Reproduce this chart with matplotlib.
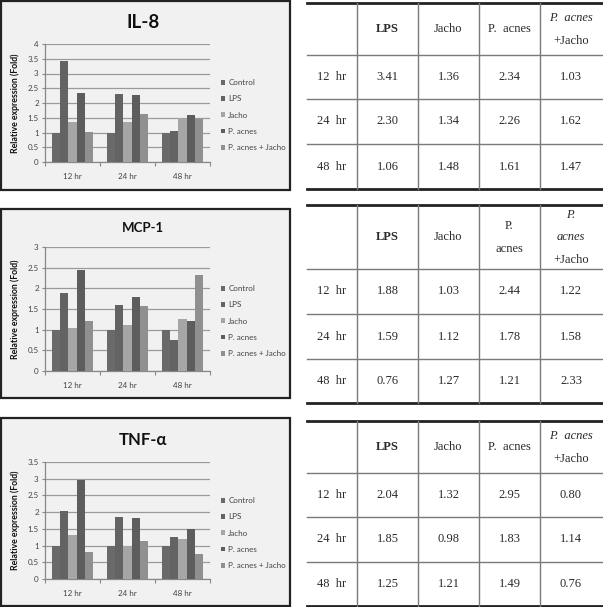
import matplotlib
matplotlib.use("Agg")
import matplotlib.pyplot as plt
from matplotlib.patches import Rectangle
from matplotlib.lines import Line2D
from matplotlib.ticker import MultipleLocator, FuncFormatter
import numpy as np

# ---------------- data ----------------
time_points = ["12 hr", "24 hr", "48 hr"]
series_names = ["Control", "LPS", "Jacho", "P. acnes", "P. acnes + Jacho"]
series_colors = ["#6a6a6a", "#636363", "#a6a6a6", "#5d5d5d", "#909090"]

il8_control = [1.00, 1.00, 1.00]
il8_lps = [3.41, 2.30, 1.06]
il8_jacho = [1.36, 1.34, 1.48]
il8_pacnes = [2.34, 2.26, 1.61]
il8_pacnes_jacho = [1.03, 1.62, 1.47]

mcp1_control = [1.00, 1.00, 1.00]
mcp1_lps = [1.88, 1.59, 0.76]
mcp1_jacho = [1.03, 1.12, 1.27]
mcp1_pacnes = [2.44, 1.78, 1.21]
mcp1_pacnes_jacho = [1.22, 1.58, 2.33]

tnf_control = [1.00, 1.00, 1.00]
tnf_lps = [2.04, 1.85, 1.25]
tnf_jacho = [1.32, 0.98, 1.21]
tnf_pacnes = [2.95, 1.83, 1.49]
tnf_pacnes_jacho = [0.80, 1.14, 0.76]

chart_titles = ["IL-8", "MCP-1", "TNF-α"]
chart_ymax = [4.0, 3.0, 3.5]
ylabel_text = "Relative expression (Fold)"

# ---------------- figure ----------------
W, H = 603, 607
fig = plt.figure(figsize=(W / 100, H / 100), dpi=100)
fig.patch.set_facecolor("white")


def fx(px):
    return px / W


def fy(py):
    return 1 - py / H


CHART_FONT = ["Lato", "DejaVu Sans"]
TABLE_FONT = ["Liberation Serif", "DejaVu Serif"]

chart_data = [
    [il8_control, il8_lps, il8_jacho, il8_pacnes, il8_pacnes_jacho],
    [mcp1_control, mcp1_lps, mcp1_jacho, mcp1_pacnes, mcp1_pacnes_jacho],
    [tnf_control, tnf_lps, tnf_jacho, tnf_pacnes, tnf_pacnes_jacho],
]

# layout (pixels from top)
frames = [(1, 190), (209, 398), (418, 606)]
plots = [(44, 162), (247, 371), (462, 579)]
title_y = [22, 228, 440]
title_size = [13.5, 9.5, 12]
legend_top = [79, 285, 497]

for i in range(3):
    ft, fb = frames[i]
    fig.add_artist(Rectangle((fx(1), fy(fb)), fx(290) - fx(1), (fb - ft) / H,
                             transform=fig.transFigure, facecolor="#f1f1f1",
                             edgecolor="#222222", linewidth=1.6, zorder=0))
    pt, pb = plots[i]
    ax = fig.add_axes([fx(45), fy(pb), fx(210) - fx(45), (pb - pt) / H])
    ax.set_facecolor("none")
    x = np.arange(len(time_points))
    bw = 0.15
    handles = []
    for k, (vals, col) in enumerate(zip(chart_data[i], series_colors)):
        h = ax.bar(x + (k - 2) * bw, vals, width=bw, color=col, edgecolor="none",
                   zorder=3, label=series_names[k])
        handles.append(h)
    ax.set_xlim(-0.5, 2.5)
    ax.set_ylim(0, chart_ymax[i])
    ax.yaxis.set_major_locator(MultipleLocator(0.5))
    ax.yaxis.set_major_formatter(FuncFormatter(lambda v, p: "%g" % v))
    ax.grid(axis="y", color="#9a9a9a", linewidth=0.9, zorder=1)
    ax.set_xticks(x)
    ax.set_xticklabels(time_points)
    ax.set_xticks([-0.5, 0.5, 1.5, 2.5], minor=True)
    ax.tick_params(axis="x", which="major", length=0, pad=8, labelsize=5.8,
                   labelcolor="#444444")
    ax.tick_params(axis="x", which="minor", length=3, color="#888888", width=0.8)
    ax.tick_params(axis="y", length=2.5, color="#888888", width=0.8, pad=2,
                   labelsize=5.8, labelcolor="#444444")
    for lab in ax.get_xticklabels() + ax.get_yticklabels():
        lab.set_family(CHART_FONT)
    for s in ["top", "right"]:
        ax.spines[s].set_visible(False)
    for s in ["left", "bottom"]:
        ax.spines[s].set_color("#888888")
        ax.spines[s].set_linewidth(0.9)
    fig.text(fx(143), fy(title_y[i]), chart_titles[i], ha="center", va="center",
             fontsize=title_size[i], fontweight="bold", family=CHART_FONT,
             color="#111111")
    fig.text(fx(15), fy((pt + pb) / 2), ylabel_text, rotation=90, ha="center",
             va="center", fontsize=6.3, fontweight="bold", family=CHART_FONT,
             color="#111111")
    leg = ax.legend(handles=handles, loc="upper left",
                    bbox_to_anchor=(fx(221), fy(legend_top[i])),
                    bbox_transform=fig.transFigure, frameon=False,
                    handlelength=0.55, handleheight=0.55,
                    handletextpad=0.35, labelspacing=1.15, borderpad=0,
                    borderaxespad=0, prop={"family": CHART_FONT, "size": 5.8})
    for t in leg.get_texts():
        t.set_color("#444444")

# ---------------- tables ----------------
table_values = [
    [il8_lps, il8_jacho, il8_pacnes, il8_pacnes_jacho],
    [mcp1_lps, mcp1_jacho, mcp1_pacnes, mcp1_pacnes_jacho],
    [tnf_lps, tnf_jacho, tnf_pacnes, tnf_pacnes_jacho],
]
row_lines = [
    (3, 55, 99, 144, 189),
    (205, 269, 314, 359, 403),
    (421, 473, 517, 562, 606),
]
col_lines = [307, 357, 418, 479, 540, 602]
TXT = "#2a2a2a"
TFS = 9


def tline(x0, x1, y0, y1, lw, color):
    fig.add_artist(Line2D([fx(x0), fx(x1)], [fy(y0), fy(y1)],
                          transform=fig.transFigure, linewidth=lw, color=color))


for i in range(3):
    top, hb, r1, r2, bot = row_lines[i]
    tline(col_lines[0], col_lines[-1], top, top, 2.0, "#222222")
    tline(col_lines[0], col_lines[-1], bot, bot, 2.0, "#222222")
    for yy in (hb, r1, r2):
        tline(col_lines[0], col_lines[-1], yy, yy, 1.0, "#7a7a7a")
    for xx in col_lines[1:-1]:
        tline(xx, xx, top, bot, 1.0, "#7a7a7a")
    cx = [(col_lines[j] + col_lines[j + 1]) / 2 for j in range(5)]
    hc = (top + hb) / 2
    kw = dict(ha="center", va="center", fontsize=TFS, family=TABLE_FONT, color=TXT)
    fig.text(fx(cx[1]), fy(hc), "LPS", fontweight="bold", **kw)
    fig.text(fx(cx[2]), fy(hc), "Jacho", **kw)
    if i == 1:
        fig.text(fx(cx[3]), fy(hc - 11), "P.", **kw)
        fig.text(fx(cx[3]), fy(hc + 12), "acnes", **kw)
        fig.text(fx(cx[4]), fy(hc - 22), "P.", style="italic", **kw)
        fig.text(fx(cx[4]), fy(hc), "acnes", style="italic", **kw)
        fig.text(fx(cx[4]), fy(hc + 23), "+Jacho", **kw)
    else:
        fig.text(fx(cx[3]), fy(hc), "P.  acnes", **kw)
        fig.text(fx(cx[4]), fy(hc - 11), "P.  acnes", style="italic", **kw)
        fig.text(fx(cx[4]), fy(hc + 12), "+Jacho", **kw)
    rows_y = [(hb + r1) / 2, (r1 + r2) / 2, (r2 + bot) / 2]
    for r in range(3):
        fig.text(fx(cx[0]), fy(rows_y[r]), time_points[r].replace(" ", "  "), **kw)
        for c in range(4):
            fig.text(fx(cx[c + 1]), fy(rows_y[r]), "%.2f" % table_values[i][c][r], **kw)

fig.savefig("out.png", dpi=100, facecolor="white")
